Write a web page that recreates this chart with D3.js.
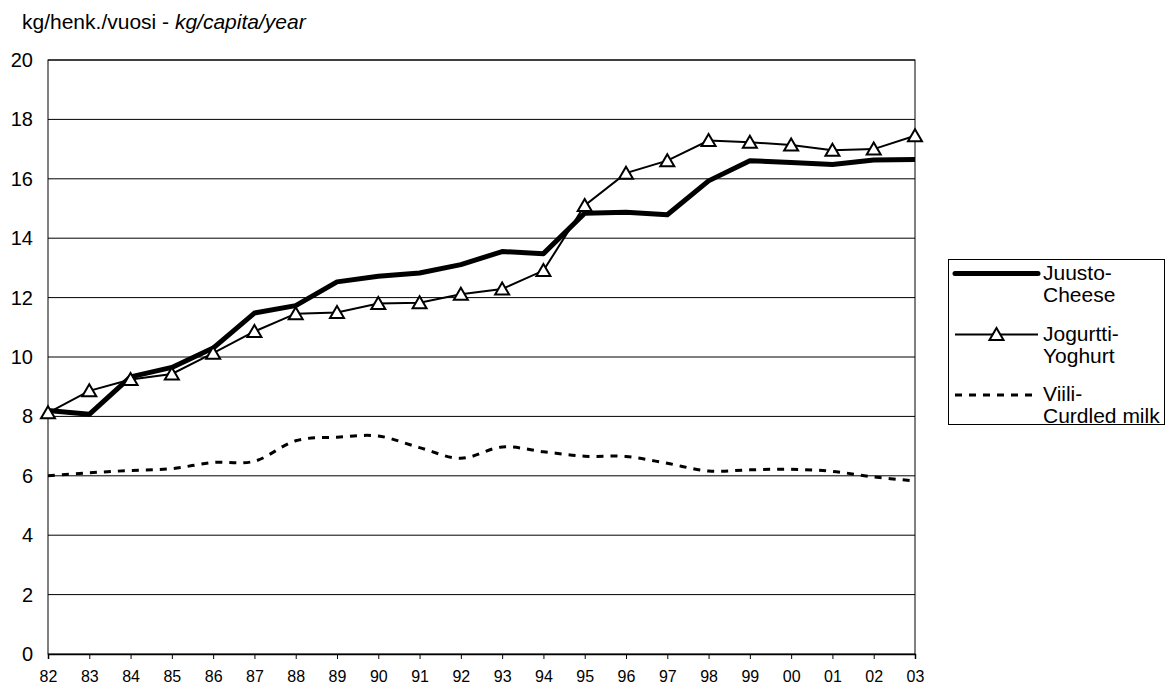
<!DOCTYPE html>
<html>
<head>
<meta charset="UTF-8">
<title>Dairy consumption</title>
<script src="https://d3js.org/d3.v7.min.js"></script>
<style>
    body {
        margin: 0;
        background: #fff;
        font-family: "Liberation Sans", Arial, sans-serif;
    }
</style>
</head>
<body>
<script>
    // years 1982-2003, two-digit labels as in the original
    var years = ["82","83","84","85","86","87","88","89","90","91","92","93","94","95","96","97","98","99","00","01","02","03"];
    var cheese  = [8.2, 8.07, 9.33, 9.65, 10.3, 11.48, 11.73, 12.53, 12.72, 12.83, 13.11, 13.55, 13.48, 14.84, 14.87, 14.79, 15.93, 16.61, 16.55, 16.48, 16.63, 16.65];
    var yoghurt = [8.12, 8.86, 9.24, 9.43, 10.13, 10.86, 11.46, 11.5, 11.8, 11.83, 12.11, 12.29, 12.91, 15.1, 16.19, 16.61, 17.29, 17.23, 17.14, 16.96, 17.0, 17.45];
    var curdled = [6.0, 6.1, 6.18, 6.24, 6.45, 6.49, 7.18, 7.3, 7.34, 6.95, 6.59, 6.97, 6.81, 6.66, 6.65, 6.42, 6.16, 6.2, 6.22, 6.15, 5.96, 5.83];
    var yTicks = [0, 2, 4, 6, 8, 10, 12, 14, 16, 18, 20];

    const W = 1167, H = 686;
    const pLeft = 48, pRight = 915, pTop = 60, pBottom = 654;

    const svg = d3.select("body").append("svg").attr("width", W).attr("height", H);

    const x = d3.scalePoint().domain(years).range([pLeft, pRight]);
    const y = d3.scaleLinear().domain([0, 20]).range([pBottom, pTop]);

    // title
    const title = svg.append("text").attr("x", 22).attr("y", 29).attr("font-size", 21);
    title.append("tspan").text("kg/henk./vuosi - ");
    title.append("tspan").attr("font-style", "italic").text("kg/capita/year");

    // gridlines
    svg.append("g").selectAll("line").data(yTicks.filter(d => d > 0)).join("line")
        .attr("x1", pLeft).attr("x2", pRight)
        .attr("y1", d => y(d)).attr("y2", d => y(d))
        .attr("stroke", "#000").attr("stroke-width", 1);

    // frame
    svg.append("rect").attr("x", pLeft).attr("y", pTop).attr("width", pRight - pLeft).attr("height", pBottom - pTop)
        .attr("fill", "none").attr("stroke", "#000").attr("stroke-width", 1);

    // y axis labels
    svg.append("g").selectAll("text").data(yTicks).join("text")
        .attr("x", 33).attr("y", d => y(d) + 7)
        .attr("text-anchor", "end").attr("font-size", 20)
        .text(d => d);

    // x axis
    const xAxis = d3.axisBottom(x).tickSize(5).tickPadding(12);
    const gx = svg.append("g").attr("transform", `translate(0,${pBottom})`).call(xAxis);
    gx.select(".domain").attr("stroke", "#000").attr("stroke-width", 1.5);
    gx.selectAll(".tick line").attr("stroke", "#000");
    gx.selectAll(".tick text").attr("font-size", 16).attr("font-family", "Liberation Sans, Arial, sans-serif").attr("fill", "#000");

    // series
    const lineStraight = d3.line().x((d, i) => x(years[i])).y(d => y(d));
    const lineSmooth = d3.line().x((d, i) => x(years[i])).y(d => y(d)).curve(d3.curveCatmullRom.alpha(0));

    svg.append("path").attr("d", lineSmooth(curdled))
        .attr("fill", "none").attr("stroke", "#000").attr("stroke-width", 3).attr("stroke-dasharray", "7,7");

    svg.append("path").attr("d", lineStraight(yoghurt))
        .attr("fill", "none").attr("stroke", "#000").attr("stroke-width", 2);

    svg.append("path").attr("d", lineStraight(cheese))
        .attr("fill", "none").attr("stroke", "#000").attr("stroke-width", 5).attr("stroke-linejoin", "round");

    const tri = "M0,-6.5L7,5.5L-7,5.5Z";
    svg.append("g").selectAll("path").data(yoghurt).join("path")
        .attr("transform", (d, i) => `translate(${x(years[i])},${y(d)})`)
        .attr("d", tri).attr("fill", "#fff").attr("stroke", "#000").attr("stroke-width", 2);

    // legend
    const lg = svg.append("g");
    lg.append("rect").attr("x", 948.5).attr("y", 259.5).attr("width", 216).attr("height", 165)
        .attr("fill", "#fff").attr("stroke", "#000").attr("stroke-width", 1);

    const legendItems = [
        {lines: ["Juusto-", "Cheese"], ly: 273.5, type: "cheese"},
        {lines: ["Jogurtti-", "Yoghurt"], ly: 334.5, type: "yoghurt"},
        {lines: ["Viili-", "Curdled milk"], ly: 395, type: "curdled"}
    ];
    legendItems.forEach(it => {
        const l = lg.append("line").attr("x1", 955).attr("x2", 1038).attr("y1", it.ly).attr("y2", it.ly)
            .attr("stroke", "#000");
        if (it.type === "cheese") l.attr("stroke-width", 5).attr("stroke-linecap", "round");
        if (it.type === "yoghurt") {
            l.attr("stroke-width", 2);
            lg.append("path").attr("transform", `translate(996.5,${it.ly})`).attr("d", tri)
                .attr("fill", "#fff").attr("stroke", "#000").attr("stroke-width", 2);
        }
        if (it.type === "curdled") l.attr("stroke-width", 3).attr("stroke-dasharray", "7,7");
        const t = lg.append("text").attr("x", 1043).attr("y", it.ly + 6).attr("font-size", 21);
        it.lines.forEach((s, k) => t.append("tspan").attr("x", 1043).attr("dy", k === 0 ? 0 : 22).text(s));
    });
</script>
</body>
</html>
